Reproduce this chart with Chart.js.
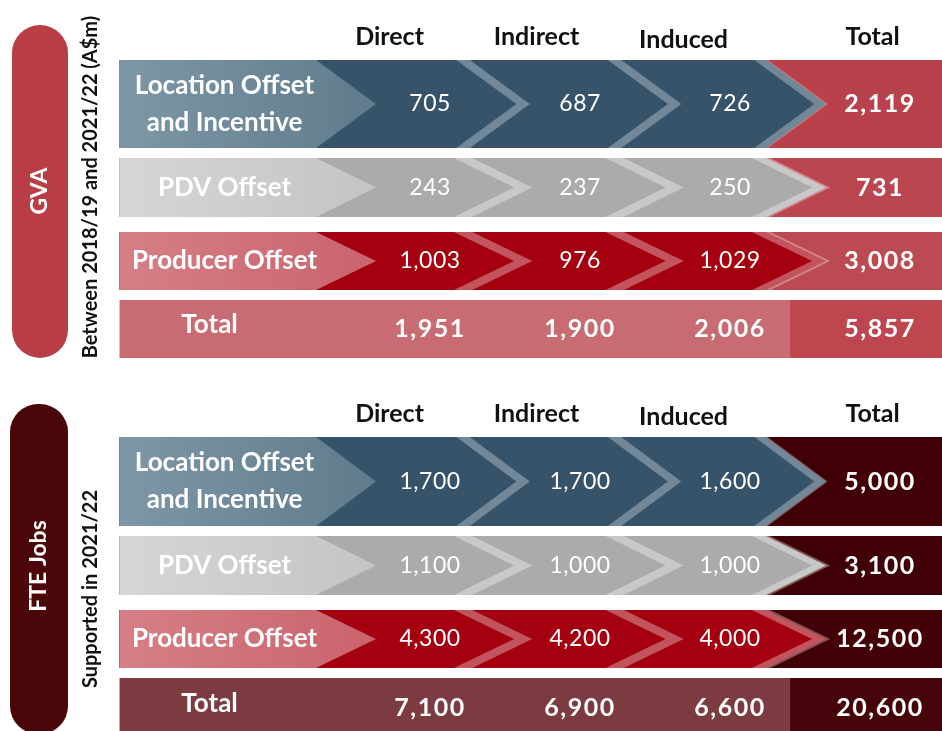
<!DOCTYPE html>
<html>
<head>
<meta charset="utf-8">
<script src="https://cdn.jsdelivr.net/npm/chart.js@4"></script>
<style>
  body { margin: 0; background: #fff; }
  canvas { display: block; }
</style>
</head>
<body>
<canvas id="gvaChart" width="942" height="370"></canvas>
<canvas id="fteChart" width="942" height="361"></canvas>
<script>
// Column headings and row names, shared by both panels
const columns = ["Direct", "Indirect", "Induced", "Total"];
const rowNames = ["Location Offset\nand Incentive", "PDV Offset", "Producer Offset", "Total"];

// GVA (A$m), between 2018/19 and 2021/22
const gvaLocation = [705, 687, 726, 2119];
const gvaPdv = [243, 237, 250, 731];
const gvaProducer = [1003, 976, 1029, 3008];
const gvaTotal = [1951, 1900, 2006, 5857];

// FTE jobs supported in 2021/22
const fteLocation = [1700, 1700, 1600, 5000];
const ftePdv = [1100, 1000, 1000, 3100];
const fteProducer = [4300, 4200, 4000, 12500];
const fteTotal = [7100, 6900, 6600, 20600];

// layout on the x axis: one unit per column, values sit at 1..4
const X_MIN = -1.867, X_MAX = 4.413;
const ROW_START = -1.07, ROW_END = 4.45;
const TIPS = [0.64, 1.62, 2.63, 3.64];
const DEPTH = 0.4;
const TOTAL_SPLIT = 3.4;
const HEAD_X = [0.73, 1.71, 2.69, 3.95];
const LABEL_X = -0.37;
const FONT = "Lato, 'Open Sans', sans-serif";

// colours for the three contribution rows
const rowColours = [
    { label: ["#7d97a7", "#5f7b8c"], main: "#36536a", line: "rgba(255,255,255,0.3)" },
    { label: ["#d6d6d6", "#c4c4c4"], main: "#ababab", line: "rgba(255,255,255,0.35)" },
    { label: ["#d67f86", "#c9636c"], main: "#a4000f", line: "rgba(255,255,255,0.33)" },
];

function arrowPath(ctx, x0, xTip, depth, top, bottom) {
    const mid = (top + bottom) / 2;
    ctx.beginPath();
    ctx.moveTo(x0, top);
    ctx.lineTo(xTip - depth, top);
    ctx.lineTo(xTip, mid);
    ctx.lineTo(xTip - depth, bottom);
    ctx.lineTo(x0, bottom);
    ctx.closePath();
}

function chevronLine(ctx, xTip, depth, top, bottom) {
    const half = (bottom - top) / 2, mid = top + half;
    ctx.beginPath();
    ctx.moveTo(xTip - depth * 1.3, top - half * 0.3);
    ctx.lineTo(xTip, mid);
    ctx.lineTo(xTip - depth * 1.3, bottom + half * 0.3);
    ctx.stroke();
}

function rotatedText(ctx, text, cx, cy, font, colour) {
    ctx.save();
    ctx.translate(cx, cy);
    ctx.rotate(-Math.PI / 2);
    ctx.font = font;
    ctx.fillStyle = colour;
    ctx.textAlign = "center";
    ctx.textBaseline = "middle";
    ctx.fillText(text, 0, 0);
    ctx.restore();
}

function panelPlugin(p) {
    return {
        id: "panel",
        beforeDatasetsDraw(chart) {
            const { ctx } = chart;
            const xs = chart.scales.x, ys = chart.scales.y;
            const X = v => xs.getPixelForValue(v);
            const Y = v => ys.getPixelForValue(v);
            const depth = X(DEPTH) - X(0);

            ctx.save();
            // side pill and caption
            ctx.fillStyle = p.pill;
            ctx.beginPath();
            ctx.roundRect(p.pillBox[0], p.pillBox[1], p.pillBox[2], p.pillBox[3], 28);
            ctx.fill();
            rotatedText(ctx, p.name, p.pillBox[0] + p.pillBox[2] / 2, p.nameY, "bold 23px " + FONT, "#fff");
            rotatedText(ctx, p.caption, 91, p.captionY, "bold 20px " + FONT, "#111");

            // column headings
            ctx.font = "bold 25px " + FONT;
            ctx.fillStyle = "#111";
            ctx.textAlign = "center";
            ctx.textBaseline = "middle";
            columns.forEach((c, i) => {
                ctx.fillText(c, X(HEAD_X[i]), p.headY + (c === "Induced" ? 3 : 0));
            });

            p.bands.forEach((band, r) => {
                const top = Y(band[0]), bottom = Y(band[1]);
                const left = X(ROW_START), right = X(ROW_END);
                const meta = chart.getDatasetMeta(r);

                if (r === 3) {
                    // summary row: flat band plus darker total cell
                    ctx.fillStyle = p.sumRow;
                    ctx.fillRect(left, top, X(TOTAL_SPLIT) - left, bottom - top);
                    ctx.fillStyle = p.sumCell;
                    ctx.fillRect(X(TOTAL_SPLIT), top, right - X(TOTAL_SPLIT), bottom - top);
                } else {
                    const col = rowColours[r];
                    ctx.fillStyle = p.totalCell[r];
                    ctx.fillRect(left, top, right - left, bottom - top);
                    ctx.fillStyle = col.main;
                    arrowPath(ctx, left, X(TIPS[3]), depth, top, bottom);
                    ctx.fill();

                    ctx.save();
                    ctx.beginPath();
                    ctx.rect(left, top, right - left, bottom - top);
                    ctx.clip();
                    ctx.strokeStyle = col.line;
                    ctx.lineWidth = 8;
                    ctx.lineJoin = "miter";
                    chevronLine(ctx, X(TIPS[1]), depth, top, bottom);
                    chevronLine(ctx, X(TIPS[2]), depth, top, bottom);
                    chevronLine(ctx, X(TIPS[3]) - 5, depth, top, bottom);
                    ctx.restore();

                    const g = ctx.createLinearGradient(left, 0, X(TIPS[0]), 0);
                    g.addColorStop(0, col.label[0]);
                    g.addColorStop(1, col.label[1]);
                    ctx.fillStyle = g;
                    arrowPath(ctx, left, X(TIPS[0]), depth, top, bottom);
                    ctx.fill();
                }

                // row name
                ctx.fillStyle = "#fff";
                ctx.font = "bold 26px " + FONT;
                ctx.letterSpacing = "0px";
                const lines = rowNames[r].split("\n");
                const mid = (top + bottom) / 2;
                const lx = r === 3 ? X(LABEL_X - 0.1) : X(LABEL_X);
                lines.forEach((t, i) => {
                    const ly = mid + (i - (lines.length - 1) / 2) * 37 - (r === 3 ? 4 : 0);
                    ctx.fillText(t, lx, ly);
                });

                // values, placed on the dataset's own points
                meta.data.forEach((pt, c) => {
                    const raw = chart.data.datasets[r].data[c];
                    const bold = r === 3 || c === 3;
                    ctx.font = (bold ? "bold 25px " : "23px ") + FONT;
                    ctx.letterSpacing = bold ? "1.5px" : "0.5px";
                    ctx.fillText(raw.v.toLocaleString("en-US"), pt.x, pt.y);
                });
                ctx.letterSpacing = "0px";
            });
            ctx.restore();
        }
    };
}

function buildPanel(id, p) {
    const datasets = p.rows.map((vals, r) => ({
        label: rowNames[r],
        data: vals.map((v, c) => ({ x: c + 1, y: (p.bands[r][0] + p.bands[r][1]) / 2, v: v })),
        pointRadius: 0,
        pointHoverRadius: 0,
    }));
    new Chart(document.getElementById(id), {
        type: "scatter",
        data: { datasets },
        options: {
            responsive: false,
            animation: false,
            layout: { padding: 0 },
            plugins: { legend: { display: false }, tooltip: { enabled: false } },
            scales: {
                x: { type: "linear", min: X_MIN, max: X_MAX, display: false },
                y: { type: "linear", min: 0, max: p.height, reverse: true, display: false },
            },
        },
        plugins: [panelPlugin(p)],
    });
}

buildPanel("gvaChart", {
    height: 370,
    rows: [gvaLocation, gvaPdv, gvaProducer, gvaTotal],
    bands: [[60, 148], [158, 217], [232, 290], [300, 358]],
    headY: 37,
    name: "GVA",
    caption: "Between 2018/19 and 2021/22 (A$m)",
    pill: "#b83d46",
    pillBox: [12, 25, 56, 333],
    nameY: 191,
    captionY: 187,
    totalCell: ["#b9414b", "#bb464f", "#bc4a53"],
    sumRow: "#c96b72",
    sumCell: "#be464f",
});

buildPanel("fteChart", {
    height: 361,
    rows: [fteLocation, ftePdv, fteProducer, fteTotal],
    bands: [[67, 156], [166, 225], [240, 298], [308, 368]],
    headY: 44,
    name: "FTE Jobs",
    caption: "Supported in 2021/22",
    pill: "#4b0609",
    pillBox: [10, 34, 58, 330],
    nameY: 196,
    captionY: 219,
    totalCell: ["#410006", "#410006", "#430007"],
    sumRow: "#7b3b40",
    sumCell: "#47030a",
});
</script>
</body>
</html>
